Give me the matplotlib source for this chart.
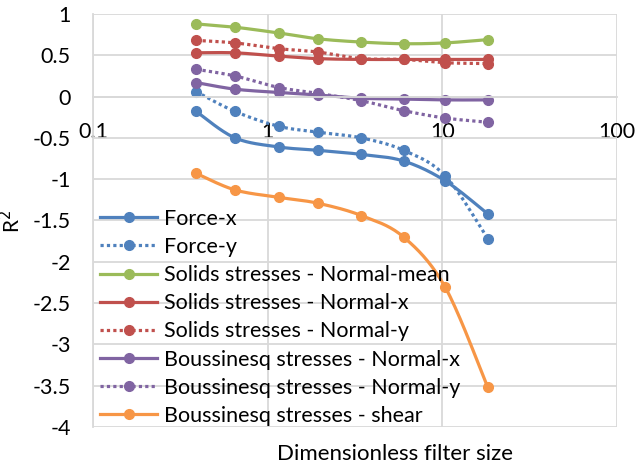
import numpy as np
import matplotlib
matplotlib.use('Agg')
import matplotlib.pyplot as plt
from matplotlib.ticker import FixedLocator, NullLocator

plt.rcParams['font.family'] = ['Lato', 'DejaVu Sans']

filter_size = [0.39, 0.65, 1.16, 1.93, 3.44, 6.0, 10.4, 18.2]

force_x = [-0.18, -0.50, -0.61, -0.65, -0.70, -0.78, -1.02, -1.42]
force_y = [0.06, -0.18, -0.36, -0.43, -0.50, -0.65, -0.96, -1.72]
solids_mean = [0.88, 0.84, 0.77, 0.70, 0.66, 0.64, 0.65, 0.69]
solids_x = [0.53, 0.53, 0.49, 0.46, 0.45, 0.45, 0.45, 0.45]
solids_y = [0.68, 0.65, 0.58, 0.54, 0.46, 0.45, 0.41, 0.40]
bous_x = [0.17, 0.09, 0.05, 0.02, -0.02, -0.03, -0.04, -0.04]
bous_y = [0.33, 0.25, 0.11, 0.04, -0.05, -0.17, -0.26, -0.31]
bous_shear = [-0.93, -1.13, -1.22, -1.29, -1.44, -1.70, -2.31, -3.52]

series = [
    ('Force-x', force_x, '#4F81BD', '-'),
    ('Force-y', force_y, '#4F81BD', ':'),
    ('Solids stresses - Normal-mean', solids_mean, '#9BBB59', '-'),
    ('Solids stresses - Normal-x', solids_x, '#C0504D', '-'),
    ('Solids stresses - Normal-y', solids_y, '#C0504D', ':'),
    ('Boussinesq stresses - Normal-x', bous_x, '#8064A2', '-'),
    ('Boussinesq stresses - Normal-y', bous_y, '#8064A2', ':'),
    ('Boussinesq stresses - shear', bous_shear, '#F79646', '-'),
]

# pixel scale of one decade / one unit of R2, used so the smoothing
# behaves like it would on screen
SX, SY = 174.7, 82.6


def smooth(x, y, n=20):
    u = np.log10(x) * SX
    v = np.asarray(y) * SY
    pu = np.concatenate([[u[0]], u, [u[-1]]])
    pv = np.concatenate([[v[0]], v, [v[-1]]])
    us, vs = [], []
    t = np.linspace(0, 1, n)
    for i in range(1, len(pu) - 2):
        p0 = np.array([pu[i], pv[i]])
        p3 = np.array([pu[i + 1], pv[i + 1]])
        c1 = p0 + (np.array([pu[i + 1], pv[i + 1]]) - np.array([pu[i - 1], pv[i - 1]])) / 6
        c2 = p3 - (np.array([pu[i + 2], pv[i + 2]]) - np.array([pu[i], pv[i]])) / 6
        b = ((1 - t) ** 3)[:, None] * p0 + (3 * (1 - t) ** 2 * t)[:, None] * c1 \
            + (3 * (1 - t) * t ** 2)[:, None] * c2 + (t ** 3)[:, None] * p3
        us.extend(b[:, 0])
        vs.extend(b[:, 1])
    return 10 ** (np.array(us) / SX), np.array(vs) / SY


fig = plt.figure(figsize=(6.35, 4.7), dpi=100)
ax = fig.add_axes([93 / 635, 1 - 427 / 470, 524 / 635, 413 / 470])

grid_c = '#D9D9D9'
for name, vals, color, ls in series:
    dash = (0, (1, 1)) if ls == ':' else '-'
    sx, sy = smooth(filter_size, vals)
    ax.plot(sx, sy, color=color, lw=2.3, ls=dash, solid_capstyle='round')
    ax.plot(filter_size, vals, 'o', color=color, ms=7, ls='none')
    ax.plot([], [], color=color, lw=2.3, ls=dash, marker='o', ms=7, label=name)

ax.set_xscale('log')
ax.set_xlim(0.1, 100)
ax.set_ylim(-4, 1)
ax.xaxis.set_major_locator(FixedLocator([0.1, 1, 10, 100]))
ax.xaxis.set_minor_locator(NullLocator())
ax.set_xticklabels(['0.1', '1', '10', '100'])
ax.set_yticks(np.arange(-4, 1.01, 0.5))
ax.set_yticklabels(['-4', '-3.5', '-3', '-2.5', '-2', '-1.5', '-1', '-0.5', '0', '0.5', '1'])

ax.grid(True, color=grid_c, lw=1.3)
ax.set_axisbelow(True)
for s in ['top', 'right']:
    ax.spines[s].set_visible(False)
ax.spines['left'].set_color(grid_c)
ax.spines['left'].set_linewidth(1.3)
ax.spines['bottom'].set_position(('data', 0))
ax.spines['bottom'].set_color(grid_c)
ax.spines['bottom'].set_linewidth(1.3)
ax.tick_params(axis='both', length=0, labelsize=15.5, colors='#404040', labelcolor='black')
ax.tick_params(axis='x', pad=18)
ax.tick_params(axis='y', pad=16)

fig.text(395 / 635, 1 - 454 / 470, 'Dimensionless filter size', ha='center', va='center', fontsize=16)
fig.text(12 / 635, 1 - 221 / 470, 'R$^2$', rotation=90, ha='center', va='center', fontsize=15)

ax.legend(loc='lower left', bbox_to_anchor=(7 / 524, 1 / 413), frameon=False, fontsize=15.5,
          handlelength=2.65, handletextpad=0.32, labelspacing=0.38, borderaxespad=0,
          borderpad=0)

fig.savefig('out.png', dpi=100)
